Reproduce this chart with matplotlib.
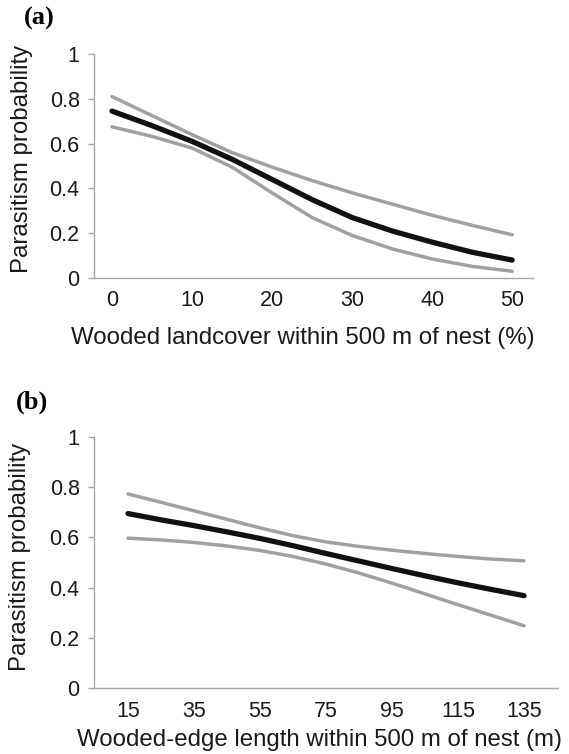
import matplotlib
matplotlib.use("Agg")
from matplotlib import pyplot as plt
import numpy as np

plt.rcParams['font.family'] = ['Liberation Sans', 'DejaVu Sans']

# panel (a): wooded landcover (%)
wood_x = [0, 5, 10, 15, 20, 25, 30, 35, 40, 45, 50]
wood_mean = [0.745, 0.68, 0.61, 0.53, 0.44, 0.35, 0.27, 0.21, 0.16, 0.115, 0.08]
wood_upper = [0.81, 0.725, 0.64, 0.56, 0.495, 0.435, 0.38, 0.33, 0.28, 0.235, 0.193]
wood_lower = [0.675, 0.632, 0.58, 0.495, 0.38, 0.27, 0.19, 0.13, 0.085, 0.052, 0.03]
wood_ticks = [0, 10, 20, 30, 40, 50]

# panel (b): wooded-edge length (m)
edge_x = [15, 25, 35, 45, 55, 65, 75, 85, 95, 105, 115, 125, 135]
edge_mean = [0.695, 0.67, 0.647, 0.622, 0.596, 0.567, 0.536, 0.506, 0.476, 0.447, 0.419, 0.393, 0.368]
edge_upper = [0.773, 0.74, 0.706, 0.672, 0.638, 0.607, 0.582, 0.564, 0.549, 0.536, 0.524, 0.514, 0.507]
edge_lower = [0.597, 0.59, 0.58, 0.566, 0.548, 0.524, 0.494, 0.458, 0.418, 0.375, 0.332, 0.29, 0.248]
edge_ticks = [15, 35, 55, 75, 95, 115, 135]

y_ticks = [0, 0.2, 0.4, 0.6, 0.8, 1]
y_labels = ['0', '0.2', '0.4', '0.6', '0.8', '1']

GREY = '#a0a0a0'
AXIS = '#a6a6a6'
TXT = '#1a1a1a'

fig = plt.figure(figsize=(5.69, 7.54), dpi=100)
ax1 = fig.add_axes([0.1652, 0.6313, 0.7715, 0.2971])
ax2 = fig.add_axes([0.1652, 0.0875, 0.8155, 0.3329])


def style(ax, x, mean, upper, lower, ticks, xlim, xlabel, xl_pos, yl_pos):
    kw = dict(solid_capstyle='round', solid_joinstyle='round')
    ax.plot(x, upper, color=GREY, lw=2.5, **kw)
    ax.plot(x, lower, color=GREY, lw=2.5, **kw)
    ax.plot(x, mean, color='#111111', lw=3.8, **kw)
    ax.set_xlim(*xlim)
    ax.set_ylim(0, 1)
    ax.set_xticks(ticks)
    ax.set_yticks(y_ticks)
    ax.set_yticklabels(y_labels)
    for s in ['top', 'right']:
        ax.spines[s].set_visible(False)
    for s in ['left', 'bottom']:
        ax.spines[s].set_color(AXIS)
        ax.spines[s].set_linewidth(1.0)
    ax.tick_params(axis='y', direction='out', length=4.3, width=1.0, color=AXIS,
                   pad=6, labelsize=15.5, labelcolor=TXT)
    ax.tick_params(axis='x', length=0, pad=9, labelsize=15.5, labelcolor=TXT)
    ax.set_xlabel(xlabel, fontsize=17.3, va='center', color=TXT)
    ax.xaxis.set_label_coords(*xl_pos)
    ax.set_ylabel('Parasitism probability', fontsize=17.3, va='center', color=TXT)
    ax.yaxis.set_label_coords(*yl_pos)


style(ax1, wood_x, wood_mean, wood_upper, wood_lower, wood_ticks, (-2.25, 52.6),
      'Wooded landcover within 500 m of nest (%)', (0.476, -0.268), (-0.164, 0.531))
style(ax2, edge_x, edge_mean, edge_upper, edge_lower, edge_ticks, (4.7, 145.3),
      'Wooded-edge length within 500 m of nest (m)', (0.487, -0.207), (-0.159, 0.522))

fig.text(39 / 569, 1 - 18 / 754, '(a)', family='Liberation Serif', weight='bold',
         fontsize=19, ha='center', va='center')
fig.text(32 / 569, 1 - 402 / 754, '(b)', family='Liberation Serif', weight='bold',
         fontsize=19, ha='center', va='center')

fig.savefig('out.png', dpi=100)
